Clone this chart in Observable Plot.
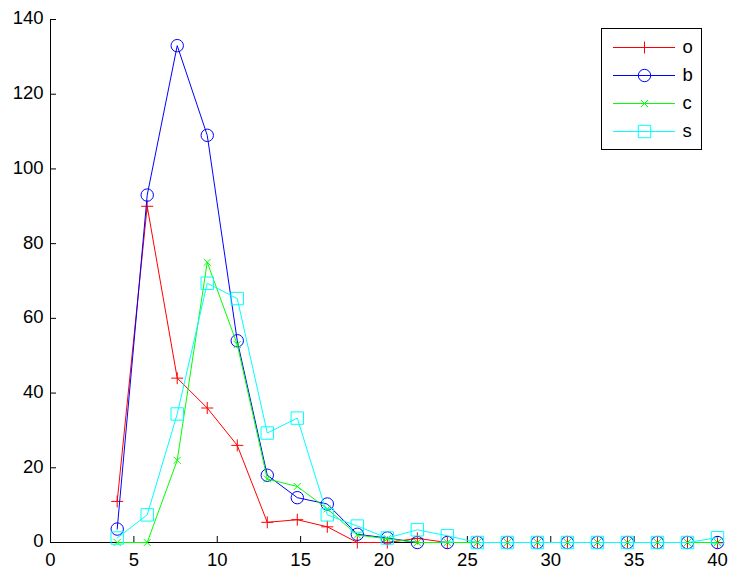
<!DOCTYPE html>
<html>
<head>
<meta charset="utf-8">
<script src="https://cdn.jsdelivr.net/npm/d3@7"></script>
<script src="https://cdn.jsdelivr.net/npm/@observablehq/plot@0.6"></script>
<style>
  body { margin: 0; background: #fff; }
  #wrap { position: relative; width: 731px; height: 574px; font-family: "Liberation Sans", Arial, sans-serif; }
  #legend { position: absolute; left: 601px; top: 28px; width: 101px; height: 122px; box-sizing: border-box; border: 1px solid #000; background: #fff; }
  #legend svg, #wrap > svg { display: block; }
</style>
</head>
<body>
<div id="wrap"><div id="legend"></div></div>
<script>
// ---- data ----
const xValues = [4, 5.8, 7.6, 9.4, 11.2, 13, 14.8, 16.6, 18.4, 20.2, 22, 23.8, 25.6, 27.4, 29.2, 31, 32.8, 34.6, 36.4, 38.2, 40];
const oValues = [11, 90, 44, 36, 26, 5.4, 6.1, 4.2, 0, 0, 1.1, 0, 0, 0, 0, 0, 0, 0, 0, 0, 0];
const bValues = [3.6, 93, 133, 109, 54, 18, 12, 10.3, 2.2, 1.2, 0, 0, 0, 0, 0, 0, 0, 0, 0, 0, 0];
const cValues = [0, 0, 22, 75, 53, 17, 15, 9, 2, 1, 0, 0, 0, 0, 0, 0, 0, 0, 0, 0, 0];
const sValues = [1.2, 7.4, 34.4, 69.4, 65.3, 29.3, 33.3, 7.4, 4.4, 1.2, 3.4, 1.8, 0, 0, 0, 0, 0, 0, 0, 0, 1.3];
const seriesNames = ["o", "b", "c", "s"];
const seriesValues = [oValues, bValues, cValues, sValues];
const seriesColors = ["#ff0000", "#0000ff", "#00ff00", "#00ffff"];
const seriesMarkers = ["plus", "circle", "times", "square"];
const seriesMarkerR = [6, 6.2, 3.5, 6.2];
const xTicks = [0, 5, 10, 15, 20, 25, 30, 35, 40];
const yTicks = [0, 20, 40, 60, 80, 100, 120, 140];

const FONT = '"Liberation Sans", Arial, Helvetica, sans-serif';
const FS = 18.5;

// custom marker shapes whose half-size equals the dot radius
const rad = size => Math.sqrt(size / Math.PI);
const markerShapes = {
  plus: {draw(c, size) { const r = rad(size); c.moveTo(-r, 0); c.lineTo(r, 0); c.moveTo(0, -r); c.lineTo(0, r); }},
  times: {draw(c, size) { const r = rad(size); c.moveTo(-r, -r); c.lineTo(r, r); c.moveTo(-r, r); c.lineTo(r, -r); }},
  circle: {draw(c, size) { const r = rad(size); c.moveTo(r, 0); c.arc(0, 0, r, 0, 2 * Math.PI); }},
  square: {draw(c, size) { const r = rad(size); c.rect(-r, -r, 2 * r, 2 * r); }}
};

const series = seriesNames.map((name, k) => ({
  name,
  color: seriesColors[k],
  shape: markerShapes[seriesMarkers[k]],
  r: seriesMarkerR[k],
  rows: xValues.map((x, i) => ({x, y: seriesValues[k][i]}))
}));

const seriesMarks = series.flatMap(s => [
  Plot.line(s.rows, {x: "x", y: "y", stroke: s.color, strokeWidth: 1}),
  Plot.dot(s.rows, {x: "x", y: "y", symbol: s.shape, r: s.r, stroke: s.color, fill: "none", strokeWidth: 1})
]);

const chart = Plot.plot({
  width: 731,
  height: 574,
  marginLeft: 50,
  marginRight: 14,
  marginTop: 19,
  marginBottom: 32,
  style: {fontFamily: FONT, fontSize: FS + "px", background: "transparent", color: "#000", overflow: "visible"},
  x: {domain: [0, 40]},
  y: {domain: [0, 140]},
  marks: [
    Plot.ruleX([0], {stroke: "#000", strokeWidth: 1}),
    Plot.ruleY([0], {stroke: "#000", strokeWidth: 1}),
    Plot.axisX(xTicks, {tickSize: -6, tickFormat: () => "", label: null, stroke: "#000"}),
    Plot.axisX(xTicks, {tickSize: 0, tickPadding: 10, label: null, fontSize: FS, fill: "#000"}),
    Plot.axisY(yTicks, {tickSize: -6, tickFormat: () => "", label: null, stroke: "#000"}),
    Plot.axisY(yTicks, {tickSize: 0, tickPadding: 7, label: null, fontSize: FS, fill: "#000", dy: -1}),
    ...seriesMarks
  ]
});
document.getElementById("wrap").prepend(chart);

// ---- legend ----
const legend = Plot.plot({
  width: 99,
  height: 120,
  margin: 0,
  style: {fontFamily: FONT, fontSize: FS + "px", background: "transparent", color: "#000", overflow: "visible"},
  x: {type: "identity"},
  y: {type: "point", domain: seriesNames, range: [17, 102], padding: 0},
  axis: null,
  marks: series.flatMap(s => [
    Plot.ruleY([s.name], {y: d => d, x1: 11, x2: 73, stroke: s.color, strokeWidth: 1}),
    Plot.dot([s.name], {x: 42, y: d => d, symbol: s.shape, r: s.r, stroke: s.color, fill: "none", strokeWidth: 1}),
    Plot.text([s.name], {x: 80, y: d => d, text: d => d, textAnchor: "start", fontSize: FS, fill: "#000"})
  ])
});
document.getElementById("legend").appendChild(legend);
</script>
</body>
</html>
